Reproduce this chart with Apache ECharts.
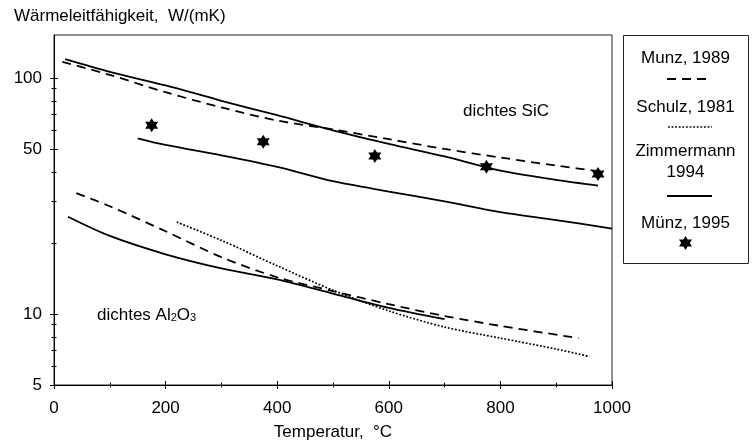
<!DOCTYPE html>
<html>
<head>
    <meta charset="utf-8">
    <title>Wärmeleitfähigkeit</title>
    <script src="https://cdn.jsdelivr.net/npm/echarts@6/dist/echarts.min.js"></script>
    <style>
        html, body { margin: 0; padding: 0; background: #fff; }
        #main { width: 752px; height: 444px; }
    </style>
</head>
<body>
<div id="main"></div>
<script>
    // Werte: [Temperatur °C, W/(mK)]
    var sicMunz1989 = [[15, 117], [100, 103], [200, 87], [300, 75], [400, 66], [500, 60.5], [600, 55], [700, 50], [800, 46], [900, 42.5], [985, 40]];
    var sicZimmermannOben = [[20, 120], [100, 106], [200, 93], [300, 80], [400, 69.5], [500, 60], [600, 52.5], [700, 46.5], [800, 40.5], [900, 37], [975, 35]];
    var sicZimmermannUnten = [[150, 55.5], [200, 52], [300, 47], [400, 42], [500, 36.5], [600, 33], [700, 30], [800, 27], [900, 25], [1000, 23]];
    var sicMuenz1995 = [[175, 63], [375, 53.6], [575, 46.7], [775, 42], [975, 39.2]];
    var alMunz1989 = [[40, 32.5], [100, 28.6], [200, 22.4], [300, 17.4], [400, 14.3], [500, 12.5], [600, 11], [700, 9.8], [800, 8.9], [940, 7.9]];
    var alSchulz1981 = [[220, 24.5], [300, 20.5], [400, 16], [500, 12.6], [600, 10.3], [700, 8.8], [800, 7.9], [900, 7.1], [960, 6.6]];
    var alZimmermann = [[25, 25.8], [100, 21.4], [200, 17.9], [300, 15.6], [400, 14], [500, 12.2], [600, 10.6], [700, 9.5]];

    var yMajor = [5, 10, 50, 100];
    var yMinor = [6, 7, 8, 9, 20, 30, 40, 60, 70, 80, 90];

    var FONT = "'Liberation Sans', Arial, sans-serif";
    var STAR = 'M0,-10L2.887,-5L8.66,-5L5.774,0L8.66,5L2.887,5L0,10L-2.887,5L-8.66,5L-5.774,0L-8.66,-5L-2.887,-5Z';
    var starPts = [[0, -10], [2.887, -5], [8.66, -5], [5.774, 0], [8.66, 5], [2.887, 5], [0, 10], [-2.887, 5], [-8.66, 5], [-5.774, 0], [-8.66, -5], [-2.887, -5]];

    function yAxisDef(ticks, inside, len, showLine, labels) {
        return {
            type: 'log', logBase: 10, min: 5, max: 152, position: 'left', offset: 0,
            axisLine: { show: showLine, lineStyle: { color: '#000', width: 1 } },
            axisTick: { show: true, inside: inside, length: len, customValues: ticks, lineStyle: { color: '#000', width: 1 } },
            axisLabel: labels ? { show: true, customValues: labels, margin: 12, color: '#000', fontSize: 17, fontFamily: FONT } : { show: false },
            splitLine: { show: false }, minorTick: { show: false }
        };
    }

    function xAxisDef(inside, showLine, labels) {
        return {
            type: 'value', min: 0, max: 1000, interval: 200, position: 'bottom',
            name: labels ? 'Temperatur,  °C' : '', nameLocation: 'middle', nameGap: 39,
            nameTextStyle: { color: '#000', fontSize: 17, fontFamily: FONT },
            axisLine: { show: showLine, lineStyle: { color: '#000', width: 1 } },
            axisTick: { show: true, inside: inside, length: 4, lineStyle: { color: '#000', width: 1 } },
            minorTick: { show: true, splitNumber: 2, length: 2.5, lineStyle: { color: '#000', width: 1 } },
            axisLabel: {
                show: labels, margin: 15, color: '#000', fontSize: 17, fontFamily: FONT,
                formatter: function (v) { return String(v); }
            },
            splitLine: { show: false }
        };
    }

    function linie(name, data, type, width) {
        return {
            name: name, type: 'line', data: data, xAxisIndex: 0, yAxisIndex: 0,
            showSymbol: false, smooth: 0.3, silent: true,
            lineStyle: { color: '#000', width: width, type: type, opacity: 1 }
        };
    }

    var chart = echarts.init(document.getElementById('main'), null, { renderer: 'canvas' });
    chart.setOption({
        animation: false,
        backgroundColor: '#fff',
        textStyle: { fontFamily: FONT },
        title: {
            text: 'Wärmeleitfähigkeit,  W/(mK)', left: 9, top: 3,
            textStyle: { color: '#000', fontSize: 17, fontWeight: 'normal', fontFamily: FONT }
        },
        grid: {
            left: 54, right: 140, top: 35, bottom: 59, outerBoundsMode: 'none',
            show: true, borderColor: '#222', borderWidth: 1, backgroundColor: 'transparent'
        },
        xAxis: [xAxisDef(false, true, true), xAxisDef(true, false, false)],
        yAxis: [
            yAxisDef(yMajor, false, 4, true, yMajor),
            yAxisDef(yMajor, true, 4, false, null),
            yAxisDef(yMinor, false, 2.5, false, null),
            yAxisDef(yMinor, true, 2.5, false, null)
        ],
        series: [
            linie('Munz, 1989', sicMunz1989, [9, 6], 1.8),
            linie('Zimmermann 1994', sicZimmermannOben, 'solid', 1.8),
            linie('Zimmermann 1994 unten', sicZimmermannUnten, 'solid', 1.8),
            linie('Munz, 1989 Al2O3', alMunz1989, [9, 6], 1.8),
            linie('Schulz, 1981', alSchulz1981, [1.8, 1.8], 1.7),
            linie('Zimmermann 1994 Al2O3', alZimmermann, 'solid', 1.8),
            {
                name: 'Münz, 1995', type: 'scatter', data: sicMuenz1995,
                symbol: 'path://' + STAR, symbolSize: [13, 14],
                itemStyle: { color: '#000', opacity: 1 }, silent: true
            }
        ],
        graphic: [
            { type: 'text', x: 463, y: 111, style: { text: 'dichtes SiC', fill: '#000', font: '17px ' + FONT, verticalAlign: 'middle' } },
            {
                type: 'text', x: 97, y: 315,
                style: {
                    text: 'dichtes Al{s|2}O{s|3}', fill: '#000', font: '17px ' + FONT, verticalAlign: 'middle',
                    rich: { s: { fontSize: 11, fontFamily: FONT, fill: '#000', verticalAlign: 'bottom' } }
                }
            },
            // Legende
            { type: 'rect', shape: { x: 623.5, y: 35.5, width: 125, height: 228 }, style: { fill: 'none', stroke: '#222', lineWidth: 1 } },
            { type: 'text', x: 685.5, y: 58, style: { text: 'Munz, 1989', fill: '#000', font: '17px ' + FONT, align: 'center', verticalAlign: 'middle' } },
            { type: 'line', shape: { x1: 667, y1: 79, x2: 712, y2: 79 }, style: { stroke: '#000', lineWidth: 1.8, lineDash: [9, 6] } },
            { type: 'text', x: 685.5, y: 107, style: { text: 'Schulz, 1981', fill: '#000', font: '17px ' + FONT, align: 'center', verticalAlign: 'middle' } },
            { type: 'line', shape: { x1: 668, y1: 127, x2: 712, y2: 127 }, style: { stroke: '#000', lineWidth: 1.7, lineDash: [1.8, 1.8] } },
            { type: 'text', x: 685.5, y: 151, style: { text: 'Zimmermann', fill: '#000', font: '17px ' + FONT, align: 'center', verticalAlign: 'middle' } },
            { type: 'text', x: 685.5, y: 172, style: { text: '1994', fill: '#000', font: '17px ' + FONT, align: 'center', verticalAlign: 'middle' } },
            { type: 'line', shape: { x1: 667, y1: 196, x2: 712, y2: 196 }, style: { stroke: '#000', lineWidth: 1.8 } },
            { type: 'text', x: 685.5, y: 223, style: { text: 'Münz, 1995', fill: '#000', font: '17px ' + FONT, align: 'center', verticalAlign: 'middle' } },
            {
                type: 'polygon', x: 685.5, y: 243,
                shape: { points: starPts.map(function (p) { return [p[0] * 0.75, p[1] * 0.7]; }) },
                style: { fill: '#000' }
            }
        ]
    });
</script>
</body>
</html>
